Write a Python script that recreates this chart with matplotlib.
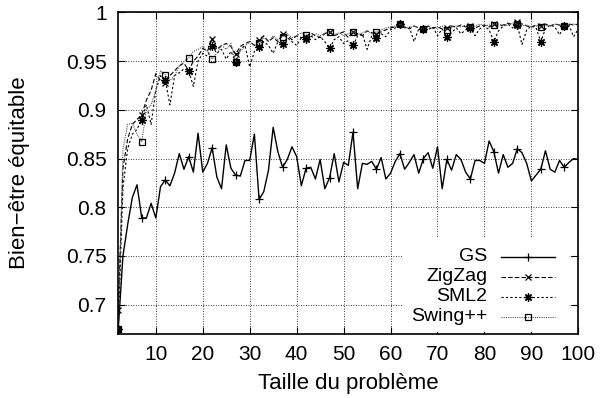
import matplotlib
matplotlib.use('Agg')
import matplotlib.pyplot as plt
from matplotlib.patches import Rectangle

plt.rcParams['font.family'] = ['Liberation Sans', 'DejaVu Sans']

# taille du probleme 2..100
sizes = list(range(2, 101))

gs = [0.675, 0.750, 0.782, 0.810, 0.823, 0.789, 0.789, 0.804, 0.789, 0.821,
      0.828, 0.822, 0.835, 0.855, 0.839, 0.852, 0.836, 0.876, 0.836, 0.845,
      0.861, 0.831, 0.819, 0.864, 0.840, 0.833, 0.832, 0.848, 0.848, 0.875,
      0.808, 0.816, 0.838, 0.882, 0.857, 0.841, 0.849, 0.862, 0.852, 0.822,
      0.840, 0.841, 0.829, 0.849, 0.819, 0.830, 0.855, 0.826, 0.846, 0.843,
      0.877, 0.819, 0.845, 0.844, 0.847, 0.839, 0.851, 0.829, 0.835, 0.847,
      0.855, 0.839, 0.846, 0.854, 0.835, 0.850, 0.856, 0.840, 0.862, 0.819,
      0.849, 0.838, 0.854, 0.849, 0.836, 0.829, 0.848, 0.848, 0.845, 0.868,
      0.857, 0.835, 0.854, 0.841, 0.845, 0.860, 0.856, 0.845, 0.827, 0.833,
      0.839, 0.858, 0.839, 0.836, 0.848, 0.841, 0.846, 0.850, 0.849]

zigzag = [0.695, 0.840, 0.870, 0.885, 0.890, 0.895, 0.910, 0.920, 0.937, 0.930,
          0.927, 0.935, 0.940, 0.945, 0.948, 0.940, 0.950, 0.955, 0.963, 0.960,
          0.973, 0.962, 0.966, 0.968, 0.965, 0.957, 0.965, 0.968, 0.970, 0.966,
          0.972, 0.976, 0.970, 0.974, 0.970, 0.978, 0.976, 0.972, 0.976, 0.974,
          0.975, 0.979, 0.976, 0.974, 0.978, 0.980, 0.976, 0.978, 0.980, 0.974,
          0.980, 0.978, 0.976, 0.981, 0.979, 0.978, 0.980, 0.982, 0.984, 0.985,
          0.988, 0.985, 0.983, 0.986, 0.984, 0.983, 0.986, 0.984, 0.985, 0.983,
          0.984, 0.986, 0.985, 0.987, 0.985, 0.986, 0.984, 0.986, 0.987, 0.985,
          0.988, 0.986, 0.987, 0.989, 0.987, 0.990, 0.988, 0.986, 0.985, 0.987,
          0.986, 0.988, 0.986, 0.988, 0.987, 0.986, 0.988, 0.987, 0.988]

sml2 = [0.675, 0.820, 0.860, 0.875, 0.880, 0.890, 0.905, 0.885, 0.920, 0.935,
        0.931, 0.905, 0.935, 0.938, 0.942, 0.940, 0.924, 0.950, 0.958, 0.955,
        0.965, 0.958, 0.962, 0.952, 0.960, 0.949, 0.962, 0.966, 0.944, 0.960,
        0.964, 0.970, 0.966, 0.958, 0.970, 0.967, 0.974, 0.970, 0.966, 0.974,
        0.973, 0.976, 0.972, 0.975, 0.970, 0.963, 0.972, 0.975, 0.968, 0.971,
        0.966, 0.976, 0.978, 0.962, 0.976, 0.974, 0.978, 0.975, 0.982, 0.984,
        0.988, 0.984, 0.985, 0.970, 0.983, 0.983, 0.982, 0.985, 0.976, 0.983,
        0.975, 0.979, 0.984, 0.978, 0.982, 0.984, 0.976, 0.983, 0.986, 0.982,
        0.970, 0.981, 0.986, 0.988, 0.984, 0.987, 0.967, 0.982, 0.986, 0.984,
        0.970, 0.983, 0.987, 0.985, 0.977, 0.986, 0.987, 0.975, 0.983]

swing = [0.675, 0.860, 0.885, 0.886, 0.875, 0.867, 0.900, 0.905, 0.920, 0.940,
         0.936, 0.930, 0.935, 0.945, 0.950, 0.953, 0.960, 0.962, 0.965, 0.960,
         0.952, 0.958, 0.966, 0.962, 0.968, 0.949, 0.960, 0.965, 0.970, 0.966,
         0.969, 0.974, 0.970, 0.976, 0.972, 0.975, 0.978, 0.974, 0.976, 0.979,
         0.977, 0.975, 0.978, 0.976, 0.979, 0.980, 0.977, 0.979, 0.976, 0.978,
         0.980, 0.977, 0.979, 0.981, 0.978, 0.980, 0.982, 0.984, 0.985, 0.986,
         0.988, 0.985, 0.984, 0.986, 0.984, 0.983, 0.985, 0.983, 0.984, 0.986,
         0.982, 0.984, 0.986, 0.985, 0.987, 0.985, 0.986, 0.988, 0.986, 0.987,
         0.987, 0.988, 0.986, 0.987, 0.989, 0.988, 0.986, 0.987, 0.985, 0.986,
         0.985, 0.987, 0.986, 0.988, 0.987, 0.986, 0.987, 0.988, 0.987]

labels = ['GS', 'ZigZag', 'SML2', 'Swing++']
series = [gs, zigzag, sml2, swing]
styles = [
    dict(color='black', linestyle='-', marker='+', ms=6, lw=1.0),
    dict(color='black', linestyle=(0, (4, 2)), marker='x', ms=4.5, lw=0.8),
    dict(color='black', linestyle=(0, (2, 2)), marker=(8, 2, 0), ms=6, lw=0.8),
    dict(color='#555555', linestyle=(0, (1, 1)), marker='s', ms=5, lw=0.8,
         mfc='none', mec='black'),
]

fig = plt.figure(figsize=(6.04, 3.98), dpi=100)
ax = fig.add_axes([0.195, 0.161, 0.7625, 0.808])

for vals, st in zip(series, styles):
    ax.plot(sizes, vals, markevery=5, mew=0.9, **st)

ax.set_xlim(1.9, 100)
ax.set_ylim(0.67, 1.0)
ax.set_xticks(range(10, 101, 10))
ax.set_yticks([0.7, 0.75, 0.8, 0.85, 0.9, 0.95, 1.0])
ax.set_yticklabels(['0.7', '0.75', '0.8', '0.85', '0.9', '0.95', '1'])
ax.grid(True, color='black', linestyle=(0, (1, 2)), linewidth=0.6)
ax.set_axisbelow(True)
ax.tick_params(direction='in', length=5, width=0.8, top=True, right=True,
               labelsize=15, pad=8)
for sp in ax.spines.values():
    sp.set_linewidth(1.2)

ax.set_xlabel('Taille du problème', fontsize=16)
ax.set_ylabel('Bien−être équitable', fontsize=16)
ax.xaxis.set_label_coords(0.5, -0.12)
ax.yaxis.set_label_coords(-0.19, 0.5)

# legende facon gnuplot : texte aligne a droite, echantillon a droite
ax.add_patch(Rectangle((0.62, 0.005), 0.36, 0.295, transform=ax.transAxes,
                       facecolor='white', edgecolor='none', zorder=2))
for i, (lab, st) in enumerate(zip(labels, styles)):
    yy = 0.24 - i * 0.062
    ax.plot([0.832, 0.95], [yy, yy], transform=ax.transAxes, zorder=3,
            markevery=[], mew=0.9, **st)
    ax.plot([0.891], [yy], transform=ax.transAxes, zorder=3,
            linestyle='none', marker=st['marker'], ms=st['ms'],
            color='black', mfc=st.get('mfc', 'black'), mew=0.9)
    ax.text(0.803, yy, lab, transform=ax.transAxes, ha='right', va='center',
            fontsize=14, zorder=3)

fig.savefig('out.png', dpi=100)
